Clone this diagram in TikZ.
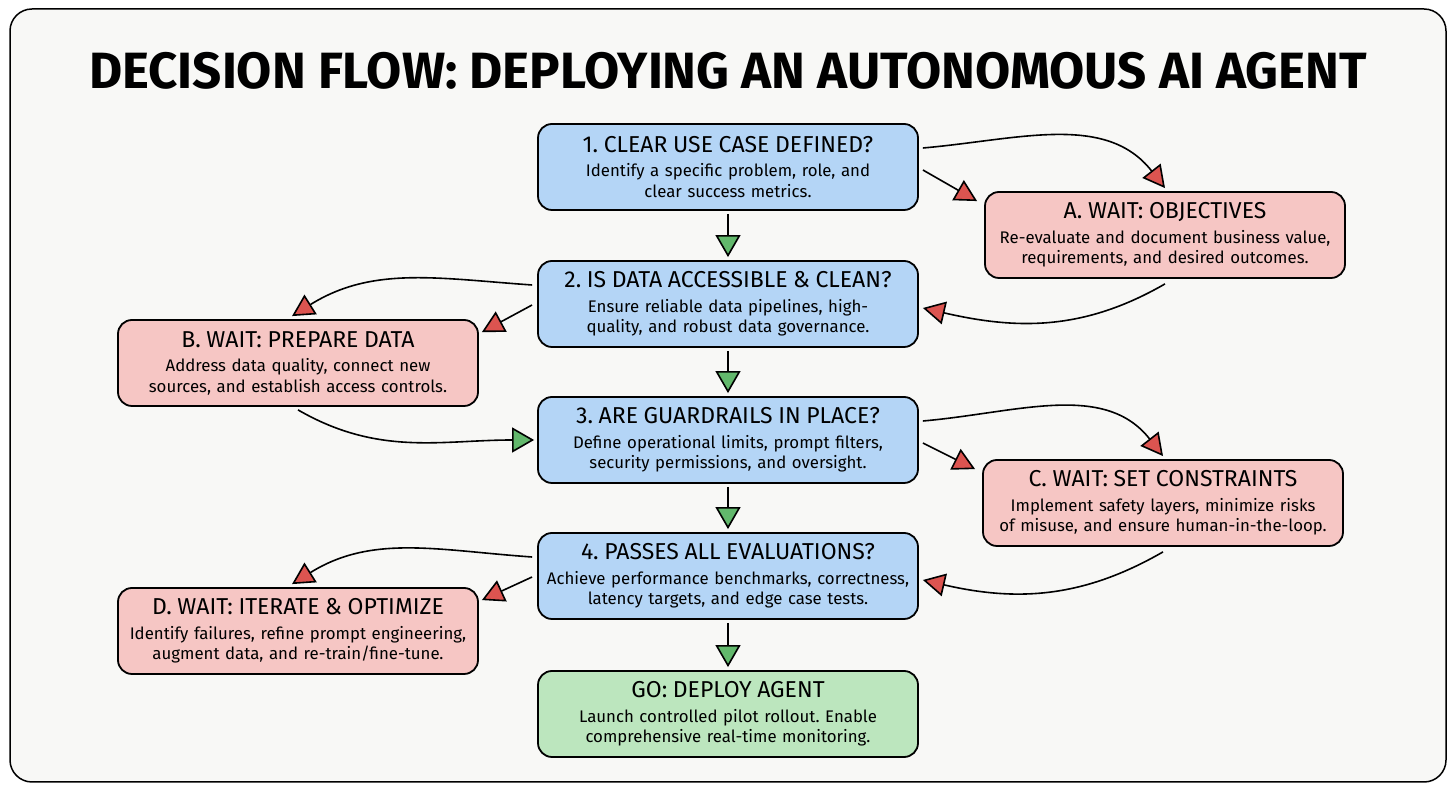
\documentclass[tikz,border=0pt]{standalone}
\usepackage{fontspec}
\usepackage{xcolor}
\usepackage{tikz}
\usetikzlibrary{arrows.meta}
\setmainfont{Fira Sans}
\frenchspacing

\definecolor{qblue}{RGB}{180,213,246}
\definecolor{wpink}{RGB}{246,198,196}
\definecolor{ggreen}{RGB}{188,230,190}
\definecolor{noRed}{RGB}{220,84,80}
\definecolor{yesGreen}{RGB}{98,184,108}
\definecolor{paper}{RGB}{248,248,246}

\newcommand{\hdfont}{\fontsize{23}{26}\selectfont}
\newcommand{\txtfont}{\fontsize{16.8}{20.5}\selectfont}

\begin{document}
\begin{tikzpicture}[x=1pt,y=1pt,
  qbox/.style={draw, line width=1.8pt, fill=qblue, rounded corners=14pt,
    minimum width=380pt, minimum height=86pt, inner sep=0pt,
    text width=376pt, align=center, font=\txtfont},
  wbox/.style={qbox, fill=wpink, minimum width=360pt, text width=356pt},
  gobox/.style={qbox, fill=ggreen},
  no/.style={line width=1.6pt, -{Triangle[length=22pt,width=23pt,fill=noRed]}},
  yes/.style={line width=1.6pt, -{Triangle[length=22pt,width=25pt,fill=yesGreen]}}]
\useasboundingbox (0,0) rectangle (1456,794);
\draw[rounded corners=22pt, line width=1.5pt, fill=paper] (10,12) rectangle (1446,785);

\node (title) at (728,723) {\fontsize{51}{55}\selectfont\bfseries DECISION FLOW: DEPLOYING AN AUTONOMOUS AI AGENT};

% questions
\node[qbox] (q1) at (728,627) {{\hdfont 1. CLEAR USE CASE DEFINED?}\\[4pt]
  Identify a specific problem, role, and\\ clear success metrics.};
\node[qbox] (q2) at (728,490) {{\hdfont 2. IS DATA ACCESSIBLE \& CLEAN?}\\[4pt]
  Ensure reliable data pipelines, high-\\ quality, and robust data governance.};
\node[qbox] (q3) at (728,354) {{\hdfont 3. ARE GUARDRAILS IN PLACE?}\\[4pt]
  Define operational limits, prompt filters,\\ security permissions, and oversight.};
\node[qbox] (q4) at (728,218) {{\hdfont 4. PASSES ALL EVALUATIONS?}\\[4pt]
  Achieve performance benchmarks, correctness,\\ latency targets, and edge case tests.};
\node[gobox] (go) at (728,80) {{\hdfont GO: DEPLOY AGENT}\\[4pt]
  Launch controlled pilot rollout. Enable\\ comprehensive real-time monitoring.};

% waits
\node[wbox] (waitA) at (1165,559) {{\hdfont A. WAIT: OBJECTIVES}\\[4pt]
  Re-evaluate and document business value,\\ requirements, and desired outcomes.};
\node[wbox] (waitB) at (298,431) {{\hdfont B. WAIT: PREPARE DATA}\\[4pt]
  Address data quality, connect new\\ sources, and establish access controls.};
\node[wbox] (waitC) at (1163,291) {{\hdfont C. WAIT: SET CONSTRAINTS}\\[4pt]
  Implement safety layers, minimize risks\\ of misuse, and ensure human-in-the-loop.};
\node[wbox] (waitD) at (298,163) {{\hdfont D. WAIT: ITERATE \& OPTIMIZE}\\[4pt]
  Identify failures, refine prompt engineering,\\ augment data, and re-train/fine-tune.};

% main line
\draw[yes, shorten <=3pt, shorten >=3pt] (q1) -- (q2);
\draw[yes, shorten <=3pt, shorten >=3pt] (q2) -- (q3);
\draw[yes, shorten <=3pt, shorten >=3pt] (q3) -- (q4);
\draw[yes, shorten <=3pt, shorten >=3pt] (q4) -- (go);

% side loops
\draw[no] ([xshift=4pt,yshift=19pt]q1.east) to[out=5,in=128] ([yshift=3pt]waitA.north);
\draw[no] ([xshift=4pt,yshift=-3pt]q1.east) -- ([xshift=-7pt,yshift=-10pt]waitA.north west);
\draw[no] ([yshift=-5pt]waitA.south) to[out=-150,in=-13] ([xshift=4pt,yshift=-4pt]q2.east);

\draw[no] ([xshift=-5pt,yshift=19pt]q2.west) to[out=176,in=32] ([xshift=-6pt,yshift=3pt]waitB.north);
\draw[no] ([xshift=-5pt,yshift=-1pt]q2.west) -- ([xshift=3pt,yshift=-13pt]waitB.north east);
\draw[yes] ([yshift=-3pt]waitB.south) to[out=-30,in=180] ([xshift=-3pt]q3.west);

\draw[no] ([xshift=4pt,yshift=19pt]q3.east) to[out=5,in=128] ([yshift=3pt]waitC.north);
\draw[no] ([xshift=4pt,yshift=-3pt]q3.east) -- ([xshift=-7pt,yshift=-10pt]waitC.north west);
\draw[no] ([yshift=-5pt]waitC.south) to[out=-150,in=-13] ([xshift=4pt,yshift=-4pt]q4.east);

\draw[no] ([xshift=-5pt,yshift=19pt]q4.west) to[out=176,in=32] ([xshift=-6pt,yshift=3pt]waitD.north);
\draw[no] ([xshift=-5pt,yshift=-1pt]q4.west) -- ([xshift=3pt,yshift=-13pt]waitD.north east);
\end{tikzpicture}
\end{document}
